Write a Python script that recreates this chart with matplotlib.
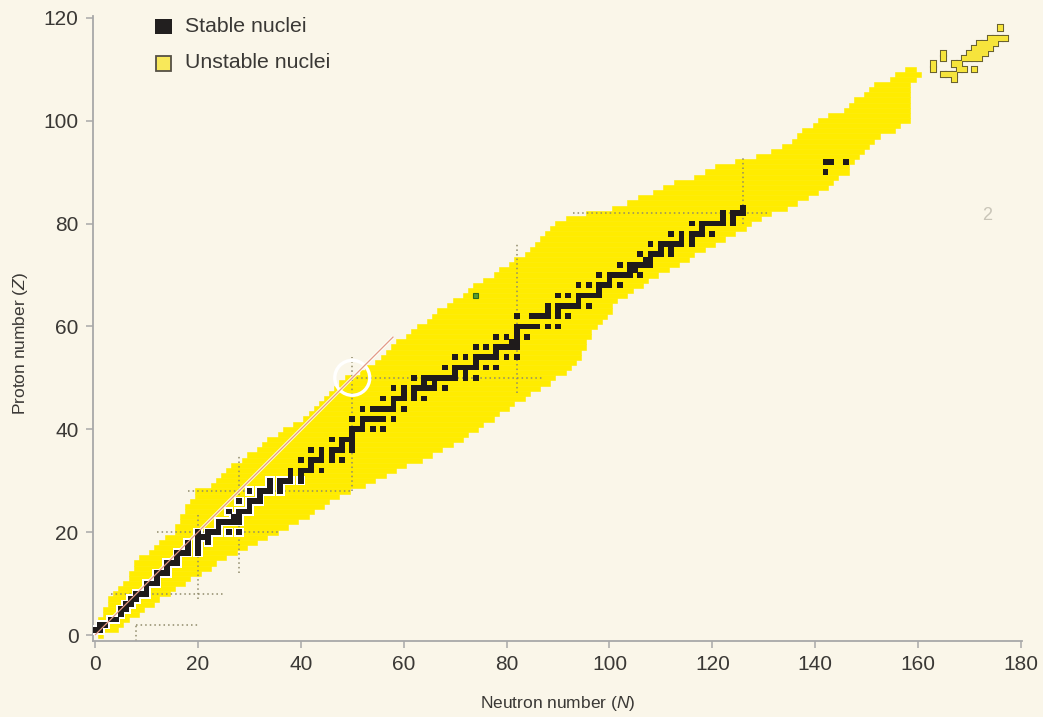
import matplotlib
matplotlib.use("Agg")
import matplotlib.pyplot as plt
from matplotlib.patches import Rectangle, Circle
import numpy as np

# ---- data -------------------------------------------------------------
# Known nuclides: for each proton number Z, lightest and heaviest neutron number N
band_z = list(range(0, 111))
band_n_min = [1, 0, 1, 1, 2, 2, 3, 3, 4, 5,
              6, 7, 7, 8, 8, 9, 11, 12, 13, 14,
              16, 16, 17, 17, 18, 18, 19, 20, 20, 23,
              24, 25, 26, 27, 29, 30, 32, 33, 34, 36,
              37, 39, 41, 42, 43, 44, 45, 46, 47, 48,
              49, 52, 53, 55, 56, 57, 58, 59, 61, 62,
              63, 65, 66, 67, 69, 70, 72, 73, 74, 76,
              78, 79, 81, 82, 84, 85, 86, 87, 88, 89,
              90, 92, 96, 101, 104, 106, 109, 111, 113, 117,
              119, 121, 125, 129, 132, 134, 136, 137, 138, 140,
              141, 143, 146, 147, 148, 150, 151, 152, 155, 156,
              158]
band_n_max = [1, 4, 5, 6, 8, 9, 11, 12, 14, 15,
              17, 18, 20, 22, 23, 25, 27, 29, 31, 33,
              35, 37, 39, 41, 42, 44, 45, 47, 49, 52,
              54, 56, 58, 60, 63, 65, 67, 69, 71, 72,
              74, 75, 77, 78, 80, 81, 83, 84, 86, 88,
              89, 91, 92, 93, 94, 94, 95, 95, 96, 96,
              97, 98, 99, 100, 100, 101, 103, 104, 106, 107,
              109, 111, 113, 115, 116, 118, 120, 122, 124, 126,
              127, 129, 131, 134, 136, 138, 140, 142, 143, 144,
              146, 146, 147, 148, 149, 150, 151, 152, 155, 156,
              158, 158, 158, 158, 158, 158, 158, 158, 159, 160,
              159]

# Stable (and primordial) nuclides: Z -> neutron numbers
stable_n = {
    1: [0, 1], 2: [1, 2], 3: [3, 4], 4: [5], 5: [5, 6], 6: [6, 7], 7: [7, 8],
    8: [8, 9, 10], 9: [10], 10: [10, 11, 12], 11: [12], 12: [12, 13, 14],
    13: [14], 14: [14, 15, 16], 15: [16], 16: [16, 17, 18, 20], 17: [18, 20],
    18: [18, 20, 22], 19: [20, 21, 22], 20: [20, 22, 23, 24, 26, 28], 21: [24],
    22: [24, 25, 26, 27, 28], 23: [27, 28], 24: [26, 28, 29, 30], 25: [30],
    26: [28, 30, 31, 32], 27: [32], 28: [30, 32, 33, 34, 36], 29: [34, 36],
    30: [34, 36, 37, 38, 40], 31: [38, 40], 32: [38, 40, 41, 42, 44], 33: [42],
    34: [40, 42, 43, 44, 46, 48], 35: [44, 46], 36: [42, 44, 46, 47, 48, 50],
    37: [48, 50], 38: [46, 48, 49, 50], 39: [50], 40: [50, 51, 52, 54, 56],
    41: [52], 42: [50, 52, 53, 54, 55, 56, 58], 44: [52, 54, 55, 56, 57, 58, 60],
    45: [58], 46: [56, 58, 59, 60, 62, 64], 47: [60, 62],
    48: [58, 60, 62, 63, 64, 65, 66, 68], 49: [64, 66],
    50: [62, 64, 65, 66, 67, 68, 69, 70, 72, 74], 51: [70, 72],
    52: [68, 70, 71, 72, 73, 74, 76, 78], 53: [74],
    54: [70, 72, 74, 75, 76, 77, 78, 80, 82], 55: [78],
    56: [74, 76, 78, 79, 80, 81, 82], 57: [81, 82], 58: [78, 80, 82, 84], 59: [82],
    60: [82, 83, 84, 85, 86, 88, 90], 62: [82, 85, 86, 87, 88, 90, 92], 63: [88, 90],
    64: [88, 90, 91, 92, 93, 94, 96], 65: [94], 66: [90, 92, 94, 95, 96, 97, 98],
    67: [98], 68: [94, 96, 98, 99, 100, 102], 69: [100],
    70: [98, 100, 101, 102, 103, 104, 106], 71: [104, 105],
    72: [102, 104, 105, 106, 107, 108], 73: [107, 108], 74: [106, 108, 109, 110, 112],
    75: [110, 112], 76: [108, 110, 111, 112, 113, 114, 116], 77: [114, 116],
    78: [112, 114, 116, 117, 118, 120], 79: [118], 80: [116, 118, 119, 120, 121, 122, 124],
    81: [122, 124], 82: [122, 124, 125, 126], 83: [126], 90: [142], 92: [142, 143, 146],
}

# Superheavy nuclides drawn as outlined cells: Z -> neutron numbers
superheavy_n = {
    118: [176], 116: [174, 175, 176, 177], 115: [172, 173, 174, 175],
    114: [171, 172, 173, 174], 113: [165, 170, 171, 172, 173],
    112: [165, 169, 170, 171, 172], 111: [163, 167, 168], 110: [163, 168, 169, 171],
    109: [165, 166, 167], 108: [167],
}

# Magic-number guide lines
magic_h = [(2, 8, 20), (8, 3, 25), (20, 12, 36), (28, 18, 50), (50, 50, 87), (82, 93, 131)]
magic_v = [(8, -1.2, 2), (20, 7, 24), (28, 12, 35), (50, 28, 54), (82, 47, 76), (126, 80, 93)]

x_ticks = [0, 20, 40, 60, 80, 100, 120, 140, 160, 180]
y_ticks = [0, 20, 40, 60, 80, 100, 120]

# ---- style ------------------------------------------------------------
plt.rcParams['font.family'] = ['Liberation Sans', 'DejaVu Sans']
plt.rcParams['mathtext.fontset'] = 'custom'
plt.rcParams['mathtext.rm'] = 'Liberation Sans'
plt.rcParams['mathtext.it'] = 'Liberation Sans:italic'

bg = '#faf6e9'
yellow = '#ffec00'
black = '#1f1b1b'
text_col = '#3a3835'
axis_col = '#a8a8a8'

W, H = 1043, 717
fig = plt.figure(figsize=(W / 100, H / 100), dpi=100, facecolor=bg)
ax = fig.add_axes([92.5 / W, 75.8 / H, 929.5 / W, 625 / H])
ax.set_facecolor(bg)
ax.set_xlim(-0.5, 180.2)
ax.set_ylim(-1.2, 120.3)

# unstable band, one row per element
zs = np.array(band_z)
lo = np.array(band_n_min)
hi = np.array(band_n_max)
ax.barh(zs, hi - lo + 1, left=lo - 0.5, height=1.0, color=yellow,
        edgecolor=yellow, linewidth=0.4, zorder=1)

# magic-number dotted guides
for z, n0, n1 in magic_h:
    ax.plot([n0, n1], [z, z], color='#8f8a6a', lw=1.1, ls=(0, (1, 2)), zorder=2)
for n, z0, z1 in magic_v:
    ax.plot([n, n], [z0, z1], color='#8f8a6a', lw=1.1, ls=(0, (1, 2)), zorder=2)

# N = Z line
ax.plot([0, 58], [0, 58], color='white', lw=2.4, alpha=0.8, zorder=2.5, solid_capstyle='butt')
ax.plot([0, 58], [0, 58], color='#e39a86', lw=0.9, zorder=5, solid_capstyle='butt')

# stable nuclei (light ones carry a white rim)
cell = 1.12
sz = np.array([z for z, ns in stable_n.items() for _ in ns])
sn = np.array([n for z, ns in stable_n.items() for n in ns])
light = sz <= 30
ax.bar(sn[light], 1.8, width=1.8, bottom=sz[light] - 0.9, color='white',
       linewidth=0, zorder=3)
ax.bar(sn, cell, width=cell, bottom=sz - cell / 2, color=black, linewidth=0, zorder=4)

# superheavy outlined cells
hz = np.array([z for z, ns in superheavy_n.items() for _ in ns])
hn = np.array([n for z, ns in superheavy_n.items() for n in ns])
ax.bar(hn, 1.0, width=1.0, bottom=hz - 0.5, color='#f6e43c',
       edgecolor='#6a6230', linewidth=1.5, zorder=3)
ax.bar(hn, 1.0, width=1.0, bottom=hz - 0.5, color='#f6e43c', linewidth=0, zorder=3.1)

# highlighted cell and doubly-magic marker
ax.bar([74], 1.0, width=1.0, bottom=66 - 0.5, color='#5a9c2e',
       edgecolor='#2f6a1a', linewidth=0.8, zorder=4)
ax.add_patch(Circle((50, 50), 3.4, fill=False, edgecolor='white', lw=2.4, zorder=4.5))

# axes styling
for side in ('top', 'right'):
    ax.spines[side].set_visible(False)
for side in ('left', 'bottom'):
    ax.spines[side].set_color(axis_col)
    ax.spines[side].set_linewidth(1.3)
ax.set_xticks(x_ticks)
ax.set_yticks(y_ticks)
ax.tick_params(axis='both', length=5, width=1.1, color=axis_col,
               labelsize=15, labelcolor=text_col, pad=5)

ax.set_xlabel('Neutron number ($\\mathit{N}$)', fontsize=12.5, color=text_col)
ax.set_ylabel('Proton number ($\\mathit{Z}$)', fontsize=12.5, color=text_col)
ax.xaxis.set_label_coords(0.5, -0.085)
ax.yaxis.set_label_coords(-0.067, 0.4755)

# legend
def fx(x):
    return x / W

def fy(y):
    return 1 - y / H

fig.patches.append(Rectangle((fx(155), fy(33.5)), 16.7 / W, 15 / H,
                             transform=fig.transFigure, facecolor='#221f1f',
                             edgecolor='none'))
fig.patches.append(Rectangle((fx(156), fy(70.5)), 14.7 / W, 14.7 / H,
                             transform=fig.transFigure, facecolor='#f8e85a',
                             edgecolor='#555045', linewidth=1.3))
fig.text(fx(185), fy(26), 'Stable nuclei', fontsize=15.3, color=text_col,
         ha='left', va='center')
fig.text(fx(185), fy(63), 'Unstable nuclei', fontsize=15.3, color=text_col,
         ha='left', va='center')
fig.text(fx(987), fy(215), '2', fontsize=13, color='#c9c5b8', ha='center', va='center')

fig.savefig('out.png', dpi=100, facecolor=bg)
